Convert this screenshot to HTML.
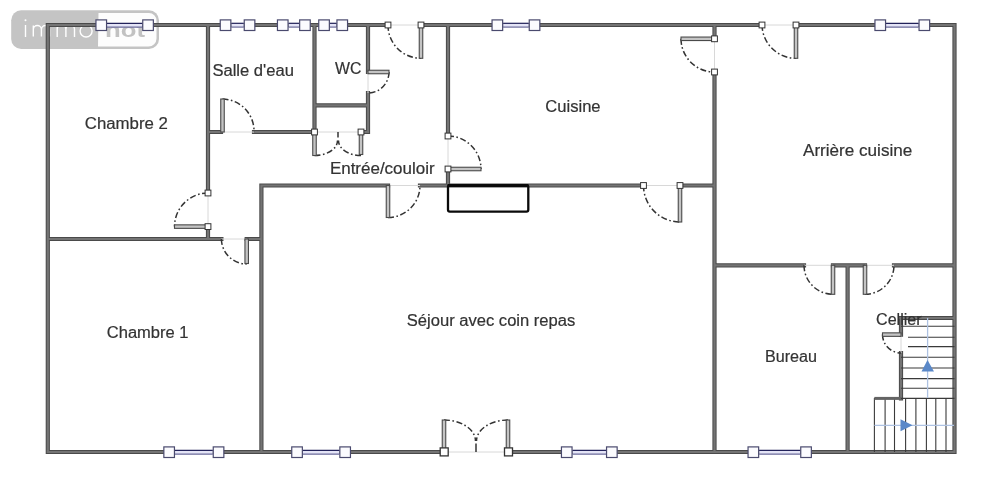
<!DOCTYPE html>
<html><head><meta charset="utf-8"><style>
html,body{margin:0;padding:0;background:#fff;width:987px;height:498px;overflow:hidden}
svg{display:block;will-change:transform}
</style></head><body>
<svg width="987" height="498" viewBox="0 0 987 498">
<rect width="987" height="498" fill="#fff"/>

<g>
  <rect x="11.2" y="10.2" width="147.8" height="38.8" rx="10" ry="10" fill="#c4c4c4"/>
  <path d="M98.5,13 H149 A7.5,7.5 0 0 1 156.5,20.5 V38.5 A8,8 0 0 1 148.5,46.5 H98 Z" fill="#fdfdfd"/>
  <g stroke="#ffffff" stroke-width="1.4" fill="none" stroke-linecap="butt">
    <line x1="25.5" y1="25" x2="25.5" y2="37"/>
    <path d="M33.3,36.5 V25.5 M33.3,29.6 A4.05,4.05 0 0 1 41.4,29.6 V36.5 M41.4,29.6 A4.05,4.05 0 0 1 49.5,29.6 V36.5"/>
    <path d="M57.2,37 V25 M57.2,29.3 A4.3,4.3 0 0 1 65.9,29.3 V37 M65.9,29.3 A4.3,4.3 0 0 1 74.5,29.3 V37"/>
    <ellipse cx="86.1" cy="31" rx="6" ry="6"/>
  </g>
  <circle cx="25.5" cy="20.3" r="1" fill="#fff"/>
  <text x="105" y="37.2" font-family="Liberation Sans, sans-serif" font-size="21" font-weight="bold" fill="#c2c2c2" textLength="40" lengthAdjust="spacingAndGlyphs">not</text>
</g>

<path d="M47.8,25.0 L388,25.0 M421,25.0 L762,25.0 M796,25.0 L954.5,25.0 M47.8,25.0 L47.8,452.0 M954.5,25.0 L954.5,452.0 M47.8,452.0 L444,452.0 M508,452.0 L954.5,452.0 M47.8,239 L221.4,239 M246.7,239 L261.4,239 M208,25.0 L208,193 M208,226.6 L208,239 M208,132 L221,132 M254,132 L314.5,132 M314.5,25.0 L314.5,132 M314.5,105.4 L368,105.4 M368,25.0 L368,72 M368,93 L368,132 M361,132 L368,132 M261.4,185.5 L261.4,452.0 M261.4,185.5 L388,185.5 M420,185.5 L643.5,185.5 M680,185.5 L714.5,185.5 M448,25.0 L448,136 M448,169 L448,185.5 M714.5,25.0 L714.5,38.8 M714.5,72 L714.5,452.0 M714.5,265.3 L804,265.3 M833,265.3 L865,265.3 M894,265.3 L954.5,265.3 M847.6,265.3 L847.6,452.0 M900.5,318 L954.5,318 M901,318 L901,334.6 M901,353 L901,398.4" stroke="#4a4a4a" stroke-width="4.2" stroke-linecap="square" fill="none"/>
<path d="M47.8,25.0 L388,25.0 M421,25.0 L762,25.0 M796,25.0 L954.5,25.0 M47.8,25.0 L47.8,452.0 M954.5,25.0 L954.5,452.0 M47.8,452.0 L444,452.0 M508,452.0 L954.5,452.0 M47.8,239 L221.4,239 M246.7,239 L261.4,239 M208,25.0 L208,193 M208,226.6 L208,239 M208,132 L221,132 M254,132 L314.5,132 M314.5,25.0 L314.5,132 M314.5,105.4 L368,105.4 M368,25.0 L368,72 M368,93 L368,132 M361,132 L368,132 M261.4,185.5 L261.4,452.0 M261.4,185.5 L388,185.5 M420,185.5 L643.5,185.5 M680,185.5 L714.5,185.5 M448,25.0 L448,136 M448,169 L448,185.5 M714.5,25.0 L714.5,38.8 M714.5,72 L714.5,452.0 M714.5,265.3 L804,265.3 M833,265.3 L865,265.3 M894,265.3 L954.5,265.3 M847.6,265.3 L847.6,452.0 M900.5,318 L954.5,318 M901,318 L901,334.6 M901,353 L901,398.4" stroke="#747474" stroke-width="2.2" stroke-linecap="square" fill="none"/>
<g stroke="#d8d8d8" stroke-width="1" fill="none">
<line x1="388" y1="25.0" x2="421" y2="25.0"/>
<line x1="762" y1="25.0" x2="796" y2="25.0"/>
<line x1="444" y1="452.0" x2="508" y2="452.0"/>
<line x1="221.4" y1="239" x2="246.7" y2="239"/>
<line x1="208" y1="193" x2="208" y2="226.6"/>
<line x1="222.5" y1="132" x2="254" y2="132"/>
<line x1="314.5" y1="132" x2="361" y2="132"/>
<line x1="368" y1="72" x2="368" y2="93"/>
<line x1="388" y1="185.5" x2="420" y2="185.5"/>
<line x1="643.5" y1="185.5" x2="680" y2="185.5"/>
<line x1="448" y1="136" x2="448" y2="169"/>
<line x1="714.5" y1="38.8" x2="714.5" y2="72"/>
<line x1="804" y1="265.3" x2="833" y2="265.3"/>
<line x1="865" y1="265.3" x2="894" y2="265.3"/>
<line x1="901" y1="334.6" x2="901" y2="353"/>
</g>
<g stroke="#333" stroke-width="1.5" fill="none" stroke-dasharray="6 2.5 1.6 2.5">
<path d="M388,25.0 A33,33 0 0 0 421,58.3"/>
<path d="M762,25.0 A34,34 0 0 0 796,58.3"/>
<path d="M222.5,99 A32,32 0 0 1 254,132"/>
<path d="M389,72 A21,21 0 0 1 368,93"/>
<path d="M388,217.5 A32,32 0 0 0 420,185.5"/>
<path d="M448,136 A33,33 0 0 1 481,169"/>
<path d="M643.5,185.5 A36.5,36.5 0 0 0 680,222"/>
<path d="M681,38.8 A33.4,33.4 0 0 0 714.5,72"/>
<path d="M804,265.3 A29,29 0 0 0 833,294.3"/>
<path d="M865,294.3 A29,29 0 0 0 894,265.3"/>
<path d="M444,420 A31.5,21 0 0 1 475.5,441"/>
<path d="M508,420 A31.5,21 0 0 0 476.5,441"/>
<path d="M208,193 A33.6,33.6 0 0 0 174.5,226.6"/>
<path d="M221.4,239 A25.3,25.3 0 0 0 246.7,264"/>
<path d="M314.5,155.5 A23,15 0 0 0 337.5,140.5"/>
<path d="M361,155.5 A22.5,15 0 0 1 338.5,140.5"/>
<path d="M882.5,334.6 A18.5,18.5 0 0 0 901,353"/>
<line x1="476" y1="443.5" x2="476" y2="452" stroke-dasharray="none"/>
<line x1="338" y1="132" x2="338" y2="137.5" stroke-dasharray="none"/>
</g>
<g stroke="#4a4a4a" stroke-width="1.1" fill="#c4c4c4">
<rect x="419.25" y="25.0" width="3.5" height="33.3"/>
<rect x="794.25" y="25.0" width="3.5" height="33.3"/>
<rect x="220.75" y="99" width="3.5" height="33"/>
<rect x="368" y="70.25" width="21" height="3.5"/>
<rect x="386.25" y="185.5" width="3.5" height="32"/>
<rect x="448" y="167.25" width="33" height="3.5"/>
<rect x="678.25" y="185.5" width="3.5" height="36.5"/>
<rect x="681" y="37.05" width="33.5" height="3.5"/>
<rect x="831.25" y="265.3" width="3.5" height="29"/>
<rect x="863.25" y="265.3" width="3.5" height="29"/>
<rect x="442.25" y="420" width="3.5" height="32"/>
<rect x="506.25" y="420" width="3.5" height="32"/>
<rect x="174.5" y="224.85" width="33.5" height="3.5"/>
<rect x="244.95" y="239" width="3.5" height="24.5"/>
<rect x="312.75" y="132" width="3.5" height="23.5"/>
<rect x="359.25" y="132" width="3.5" height="22.5"/>
<rect x="882.5" y="332.85" width="18.5" height="3.5"/>
</g>
<g stroke="#333" stroke-width="1" fill="#fff">
<rect x="385.1" y="22.1" width="5.8" height="5.8"/>
<rect x="418.1" y="22.1" width="5.8" height="5.8"/>
<rect x="759.1" y="22.1" width="5.8" height="5.8"/>
<rect x="793.1" y="22.1" width="5.8" height="5.8"/>
<rect x="311.6" y="129.1" width="5.8" height="5.8"/>
<rect x="358.1" y="129.1" width="5.8" height="5.8"/>
<rect x="640.6" y="182.6" width="5.8" height="5.8"/>
<rect x="677.1" y="182.6" width="5.8" height="5.8"/>
<rect x="445.1" y="133.1" width="5.8" height="5.8"/>
<rect x="445.1" y="166.1" width="5.8" height="5.8"/>
<rect x="711.6" y="35.9" width="5.8" height="5.8"/>
<rect x="711.6" y="69.1" width="5.8" height="5.8"/>
<rect x="205.1" y="190.1" width="5.8" height="5.8"/>
<rect x="205.1" y="223.7" width="5.8" height="5.8"/>
<rect x="440.2" y="447.9" width="8" height="8" stroke-width="1.3"/>
<rect x="504.5" y="447.9" width="8" height="8" stroke-width="1.3"/>
</g>
<rect x="448" y="185.3" width="80.3" height="26.3" rx="1.8" fill="none" stroke="#0a0a0a" stroke-width="2.3"/>
<line x1="447.5" y1="185.5" x2="528.5" y2="185.5" stroke="#0a0a0a" stroke-width="3"/>
<rect x="107.0" y="23.2" width="35.30000000000001" height="4" fill="#e4e4f6"/>
<line x1="107.0" y1="23.3" x2="142.3" y2="23.3" stroke="#22225a" stroke-width="1.2"/>
<line x1="107.0" y1="27.099999999999998" x2="142.3" y2="27.099999999999998" stroke="#6a6a9a" stroke-width="1.2"/>
<rect x="95.95" y="19.9" width="10.6" height="10.6" fill="#fbfbfe" stroke="#4a4a6e" stroke-width="1.2"/>
<rect x="142.75" y="19.9" width="10.6" height="10.6" fill="#fbfbfe" stroke="#4a4a6e" stroke-width="1.2"/>
<rect x="231.3" y="23.2" width="12.5" height="4" fill="#e4e4f6"/>
<line x1="231.3" y1="23.3" x2="243.8" y2="23.3" stroke="#22225a" stroke-width="1.2"/>
<line x1="231.3" y1="27.099999999999998" x2="243.8" y2="27.099999999999998" stroke="#6a6a9a" stroke-width="1.2"/>
<rect x="220.25" y="19.9" width="10.6" height="10.6" fill="#fbfbfe" stroke="#4a4a6e" stroke-width="1.2"/>
<rect x="244.25" y="19.9" width="10.6" height="10.6" fill="#fbfbfe" stroke="#4a4a6e" stroke-width="1.2"/>
<rect x="288.5" y="23.2" width="10.699999999999989" height="4" fill="#e4e4f6"/>
<line x1="288.5" y1="23.3" x2="299.2" y2="23.3" stroke="#22225a" stroke-width="1.2"/>
<line x1="288.5" y1="27.099999999999998" x2="299.2" y2="27.099999999999998" stroke="#6a6a9a" stroke-width="1.2"/>
<rect x="277.45" y="19.9" width="10.6" height="10.6" fill="#fbfbfe" stroke="#4a4a6e" stroke-width="1.2"/>
<rect x="299.65" y="19.9" width="10.6" height="10.6" fill="#fbfbfe" stroke="#4a4a6e" stroke-width="1.2"/>
<rect x="329.8" y="23.2" width="6.699999999999989" height="4" fill="#e4e4f6"/>
<line x1="329.8" y1="23.3" x2="336.5" y2="23.3" stroke="#22225a" stroke-width="1.2"/>
<line x1="329.8" y1="27.099999999999998" x2="336.5" y2="27.099999999999998" stroke="#6a6a9a" stroke-width="1.2"/>
<rect x="318.75" y="19.9" width="10.6" height="10.6" fill="#fbfbfe" stroke="#4a4a6e" stroke-width="1.2"/>
<rect x="336.95" y="19.9" width="10.6" height="10.6" fill="#fbfbfe" stroke="#4a4a6e" stroke-width="1.2"/>
<rect x="503.1" y="23.2" width="25.699999999999932" height="4" fill="#e4e4f6"/>
<line x1="503.1" y1="23.3" x2="528.8" y2="23.3" stroke="#22225a" stroke-width="1.2"/>
<line x1="503.1" y1="27.099999999999998" x2="528.8" y2="27.099999999999998" stroke="#6a6a9a" stroke-width="1.2"/>
<rect x="492.05" y="19.9" width="10.6" height="10.6" fill="#fbfbfe" stroke="#4a4a6e" stroke-width="1.2"/>
<rect x="529.25" y="19.9" width="10.6" height="10.6" fill="#fbfbfe" stroke="#4a4a6e" stroke-width="1.2"/>
<rect x="886.0" y="23.2" width="32.60000000000002" height="4" fill="#e4e4f6"/>
<line x1="886.0" y1="23.3" x2="918.6" y2="23.3" stroke="#22225a" stroke-width="1.2"/>
<line x1="886.0" y1="27.099999999999998" x2="918.6" y2="27.099999999999998" stroke="#6a6a9a" stroke-width="1.2"/>
<rect x="874.95" y="19.9" width="10.6" height="10.6" fill="#fbfbfe" stroke="#4a4a6e" stroke-width="1.2"/>
<rect x="919.0500000000001" y="19.9" width="10.6" height="10.6" fill="#fbfbfe" stroke="#4a4a6e" stroke-width="1.2"/>
<rect x="174.9" y="450.2" width="37.900000000000006" height="4" fill="#e4e4f6"/>
<line x1="174.9" y1="450.3" x2="212.8" y2="450.3" stroke="#22225a" stroke-width="1.2"/>
<line x1="174.9" y1="454.09999999999997" x2="212.8" y2="454.09999999999997" stroke="#6a6a9a" stroke-width="1.2"/>
<rect x="163.85" y="446.9" width="10.6" height="10.6" fill="#fbfbfe" stroke="#4a4a6e" stroke-width="1.2"/>
<rect x="213.25" y="446.9" width="10.6" height="10.6" fill="#fbfbfe" stroke="#4a4a6e" stroke-width="1.2"/>
<rect x="302.8" y="450.2" width="36.599999999999966" height="4" fill="#e4e4f6"/>
<line x1="302.8" y1="450.3" x2="339.4" y2="450.3" stroke="#22225a" stroke-width="1.2"/>
<line x1="302.8" y1="454.09999999999997" x2="339.4" y2="454.09999999999997" stroke="#6a6a9a" stroke-width="1.2"/>
<rect x="291.75" y="446.9" width="10.6" height="10.6" fill="#fbfbfe" stroke="#4a4a6e" stroke-width="1.2"/>
<rect x="339.84999999999997" y="446.9" width="10.6" height="10.6" fill="#fbfbfe" stroke="#4a4a6e" stroke-width="1.2"/>
<rect x="572.5" y="450.2" width="33.60000000000002" height="4" fill="#e4e4f6"/>
<line x1="572.5" y1="450.3" x2="606.1" y2="450.3" stroke="#22225a" stroke-width="1.2"/>
<line x1="572.5" y1="454.09999999999997" x2="606.1" y2="454.09999999999997" stroke="#6a6a9a" stroke-width="1.2"/>
<rect x="561.45" y="446.9" width="10.6" height="10.6" fill="#fbfbfe" stroke="#4a4a6e" stroke-width="1.2"/>
<rect x="606.5500000000001" y="446.9" width="10.6" height="10.6" fill="#fbfbfe" stroke="#4a4a6e" stroke-width="1.2"/>
<rect x="759.1" y="450.2" width="41.19999999999993" height="4" fill="#e4e4f6"/>
<line x1="759.1" y1="450.3" x2="800.3" y2="450.3" stroke="#22225a" stroke-width="1.2"/>
<line x1="759.1" y1="454.09999999999997" x2="800.3" y2="454.09999999999997" stroke="#6a6a9a" stroke-width="1.2"/>
<rect x="748.0500000000001" y="446.9" width="10.6" height="10.6" fill="#fbfbfe" stroke="#4a4a6e" stroke-width="1.2"/>
<rect x="800.75" y="446.9" width="10.6" height="10.6" fill="#fbfbfe" stroke="#4a4a6e" stroke-width="1.2"/>
<g stroke="#3a3a3a" stroke-width="1.1">
<line x1="901" y1="326.2" x2="954.5" y2="326.2"/>
<line x1="908" y1="337.3" x2="954.5" y2="337.3"/>
<line x1="908" y1="346.6" x2="954.5" y2="346.6"/>
<line x1="901" y1="357.3" x2="954.5" y2="357.3"/>
<line x1="901" y1="368" x2="954.5" y2="368"/>
<line x1="901" y1="378.6" x2="954.5" y2="378.6"/>
<line x1="901" y1="388.3" x2="954.5" y2="388.3"/>
<line x1="874.4" y1="398.4" x2="954.5" y2="398.4"/>
<line x1="874.4" y1="398" x2="874.4" y2="452.0"/>
<line x1="885.1" y1="398.4" x2="885.1" y2="452.0"/>
<line x1="894.5" y1="398.4" x2="894.5" y2="452.0"/>
<line x1="905.6" y1="398.4" x2="905.6" y2="452.0"/>
<line x1="915.9" y1="398.4" x2="915.9" y2="452.0"/>
<line x1="926.4" y1="398.4" x2="926.4" y2="452.0"/>
<line x1="935.8" y1="398.4" x2="935.8" y2="452.0"/>
<line x1="946" y1="398.4" x2="946" y2="452.0"/>
</g>
<line x1="874.4" y1="398.4" x2="901" y2="398.4" stroke="#646464" stroke-width="3"/>
<g stroke="#aec2e2" stroke-width="1.3">
<line x1="927.6" y1="318" x2="927.6" y2="398"/>
<line x1="874.4" y1="425.3" x2="954" y2="425.3"/>
</g>
<polygon points="927.5,360 921.5,371.6 934,371.6" fill="#5a88c8"/>
<polygon points="912.5,425.3 900.5,419.3 900.5,431.3" fill="#5a88c8"/>
<g font-family="Liberation Sans, sans-serif" font-size="16" fill="#333" stroke="#333" stroke-width="0.2">
<text x="84.8" y="128.7" textLength="83.10000000000001" lengthAdjust="spacingAndGlyphs">Chambre 2</text>
<text x="212.4" y="76.4" textLength="81.49999999999997" lengthAdjust="spacingAndGlyphs">Salle d'eau</text>
<text x="335" y="73.7" textLength="26.399999999999977" lengthAdjust="spacingAndGlyphs">WC</text>
<text x="545.3" y="112.3" textLength="55.30000000000007" lengthAdjust="spacingAndGlyphs">Cuisine</text>
<text x="329.9" y="174" textLength="104.70000000000005" lengthAdjust="spacingAndGlyphs">Entrée/couloir</text>
<text x="803" y="156.3" textLength="109.29999999999995" lengthAdjust="spacingAndGlyphs">Arrière cuisine</text>
<text x="106.8" y="337.7" textLength="81.7" lengthAdjust="spacingAndGlyphs">Chambre 1</text>
<text x="406.8" y="326" textLength="168.49999999999994" lengthAdjust="spacingAndGlyphs">Séjour avec coin repas</text>
<text x="765" y="361.8" textLength="52" lengthAdjust="spacingAndGlyphs">Bureau</text>
<text x="876" y="324.5" textLength="45.700000000000045" lengthAdjust="spacingAndGlyphs">Cellier</text>
</g>
</svg>
</body></html>
